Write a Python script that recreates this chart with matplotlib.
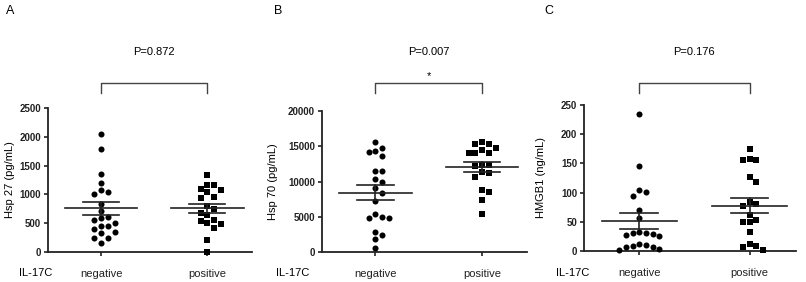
import numpy as np
import matplotlib
matplotlib.use('Agg')
import matplotlib.pyplot as plt
from matplotlib.transforms import blended_transform_factory

plt.rcParams['font.family'] = ['Liberation Sans', 'DejaVu Sans']

groups = ['negative', 'positive']
group_title = 'IL-17C'

# panel A - Hsp 27 (pg/mL)
hsp27_neg = [2040, 1780, 1350, 1200, 1080, 1040, 1000, 840, 710, 600, 590, 550,
             500, 460, 450, 400, 350, 330, 250, 240, 160]
hsp27_pos = [1340, 1170, 1160, 1100, 1080, 1040, 960, 930, 790, 750, 680, 640,
             560, 540, 510, 480, 420, 200, 0]

# panel B - Hsp 70 (pg/mL)
hsp70_neg = [15600, 14700, 14300, 14200, 13600, 11450, 11450, 10350, 10000, 9100,
             8300, 7200, 5400, 4900, 4800, 4850, 2900, 2450, 1800, 600]
hsp70_pos = [15600, 15300, 15300, 14700, 14400, 14100, 14100, 14100, 12400, 12400,
             12150, 11350, 11200, 10650, 8750, 8450, 7400, 5400]

# panel C - HMGB1 (ng/mL)
hmgb1_neg = [234, 146, 104, 101, 95, 70, 56, 33, 29, 28, 25, 30, 31, 12, 9, 6,
             1, 3, 7, 10]
hmgb1_pos = [174, 157, 155, 156, 126, 118, 84, 81, 77, 61, 53, 49, 49, 32, 9, 2, 7, 12]

panel_letters = ['A', 'B', 'C']
ylabels = ['Hsp 27 (pg/mL)', 'Hsp 70 (pg/mL)', 'HMGB1 (ng/mL)']
pvalues = ['P=0.872', 'P=0.007', 'P=0.176']
stars = ['', '*', '']
yticks = [[0, 500, 1000, 1500, 2000, 2500],
          [0, 5000, 10000, 15000, 20000],
          [0, 50, 100, 150, 200, 250]]

data = [(hsp27_neg, hsp27_pos), (hsp70_neg, hsp70_pos), (hmgb1_neg, hmgb1_pos)]

W, H = 806, 282
fig = plt.figure(figsize=(W / 100, H / 100), dpi=100)

# axes boxes in pixels: left, top, right, bottom
boxes = [(48, 108, 252, 252), (322, 111, 527, 252), (584, 105, 796, 251)]
ylab_x = [-0.163, -0.215, -0.18]
letter_x = [10, 278, 549]
title_x = [36, 293, 573]


def swarm(ax, vals, step_px=6.7, min_px=6.6):
    bbox = ax.get_window_extent()
    x0, x1 = ax.get_xlim()
    y0, y1 = ax.get_ylim()
    sx = bbox.width / (x1 - x0)
    sy = bbox.height / (y1 - y0)
    order = np.argsort(vals)[::-1]
    placed = []
    offs = np.zeros(len(vals))
    cands = [0]
    for k in range(1, 8):
        cands += [k, -k]
    for i in order:
        yp = vals[i] * sy
        for c in cands:
            xp = c * step_px
            if all((xp - px) ** 2 + (yp - py) ** 2 >= min_px ** 2 for px, py in placed):
                break
        placed.append((xp, yp))
        offs[i] = xp / sx
    return offs


for k, (neg, pos) in enumerate(data):
    l, t, r, b = boxes[k]
    ax = fig.add_axes([l / W, 1 - b / H, (r - l) / W, (b - t) / H])
    ax.set_xlim(0.5, 2.42)
    ax.set_ylim(0, yticks[k][-1])
    for s in ['top', 'right']:
        ax.spines[s].set_visible(False)
    for s in ['left', 'bottom']:
        ax.spines[s].set_linewidth(1.3)
        ax.spines[s].set_color('#222222')

    for j, (vals, mk) in enumerate([(neg, 'o'), (pos, 's')]):
        vals = np.array(vals, dtype=float)
        xc = j + 1
        offs = swarm(ax, vals)
        ax.scatter(xc + offs, vals, marker=mk, s=19 if mk == 'o' else 21,
                   color='black', linewidths=0, clip_on=False, zorder=3)
        m = vals.mean()
        sem = vals.std(ddof=1) / np.sqrt(len(vals))
        ax.plot([xc - 0.34, xc + 0.34], [m, m], color='#222222', lw=1.2, zorder=4)
        ax.plot([xc - 0.17, xc + 0.17], [m + sem, m + sem], color='#222222', lw=1.2, zorder=4)
        ax.plot([xc - 0.17, xc + 0.17], [m - sem, m - sem], color='#222222', lw=1.2, zorder=4)
        ax.plot([xc, xc], [m - sem, m + sem], color='#222222', lw=1.2, zorder=4)

    ax.set_xticks([1, 2])
    ax.set_xticklabels(groups, fontsize=8)
    ax.tick_params(axis='x', length=3, width=1.2, pad=9, colors='#222222')
    ax.set_yticks(yticks[k])
    ax.set_yticklabels([str(v) for v in yticks[k]], fontsize=7, fontweight='bold')
    ax.tick_params(axis='y', length=3, width=1.2, pad=2, colors='#222222')
    ax.set_ylabel(ylabels[k], fontsize=8)
    ax.yaxis.set_label_coords(ylab_x[k], 0.5)

    # bracket and p value
    tr = blended_transform_factory(ax.transData, fig.transFigure)
    yt, yb = 1 - 83 / H, 1 - 93 / H
    ax.plot([1, 1, 2, 2], [yb, yt, yt, yb], transform=tr, color='#444444',
            lw=1.0, clip_on=False)
    ax.text(1.5, 1 - 52 / H, pvalues[k], transform=tr, ha='center', va='center',
            fontsize=8)
    if stars[k]:
        ax.text(1.5, 1 - 76 / H, stars[k], transform=tr, ha='center', va='center',
                fontsize=8)

    fig.text(letter_x[k] / W, 1 - 11 / H, panel_letters[k], ha='center', va='center',
             fontsize=9)
    fig.text(title_x[k] / W, 1 - 273 / H, group_title, ha='center', va='center',
             fontsize=8)

fig.savefig('out.png', dpi=100)
